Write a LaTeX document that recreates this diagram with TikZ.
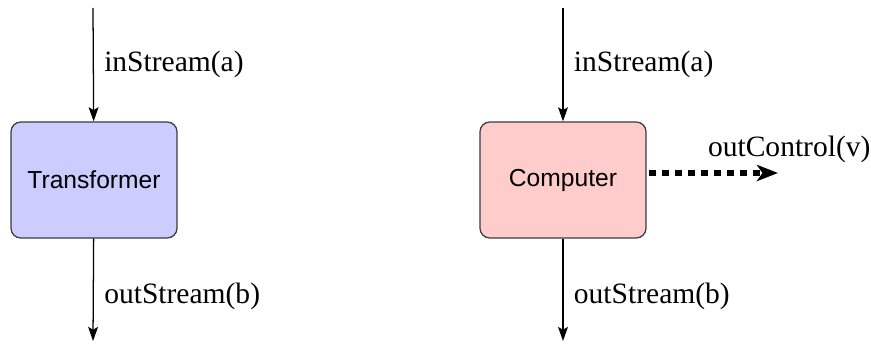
\documentclass[tikz,border=0pt]{standalone}
\usepackage{fontspec}
\setmainfont{Liberation Serif}
\setsansfont{Liberation Sans}
\usepackage{xcolor}
\usetikzlibrary{arrows.meta}
\definecolor{lightblue}{RGB}{204,204,255}
\definecolor{lightpink}{RGB}{255,204,204}
\definecolor{boxline}{RGB}{60,60,60}

\begin{document}
\begin{tikzpicture}[x=0.025cm,y=-0.025cm,
  unit/.style={draw=boxline,line width=0.9pt,rounded corners=7pt,minimum width=4.15cm,minimum height=2.9cm,font=\sffamily\fontsize{17.5}{20}\selectfont},
  flow/.style={line width=0.9pt,-{Stealth[length=10pt,width=7pt,inset=2pt]}},
  ctrl/.style={line width=3.8pt,dash pattern=on 5pt off 4.3pt,-{Stealth[length=15pt,width=11.5pt,inset=4pt]}},
  lbl/.style={font=\fontsize{21}{25}\selectfont}]
\useasboundingbox (0,0) rectangle (871,347);
\node[unit,fill=lightblue] (trans) at (94,180) {Transformer};
\node[unit,fill=lightpink] (comp) at (563,180) {Computer};
\coordinate (tin) at (93,8);
\coordinate (tout) at (93,341);
\coordinate (cin) at (563,8);
\coordinate (cout) at (563,341);
\coordinate (ctl) at (778,173);
\draw[flow] (tin) -- node[lbl,right,xshift=4pt] {inStream(a)} (trans);
\draw[flow] (trans) -- node[lbl,right,xshift=4pt,yshift=-5pt] {outStream(b)} (tout);
\draw[flow] (cin) -- node[lbl,right,xshift=4pt] {inStream(a)} (comp);
\draw[flow] (comp) -- node[lbl,right,xshift=4pt,yshift=-5pt] {outStream(b)} (cout);
\draw[ctrl,shorten <=1.5pt] (comp.east |- ctl) -- node[lbl,pos=1,above=2pt,xshift=8pt] {outControl(v)} (ctl);
\end{tikzpicture}
\end{document}
